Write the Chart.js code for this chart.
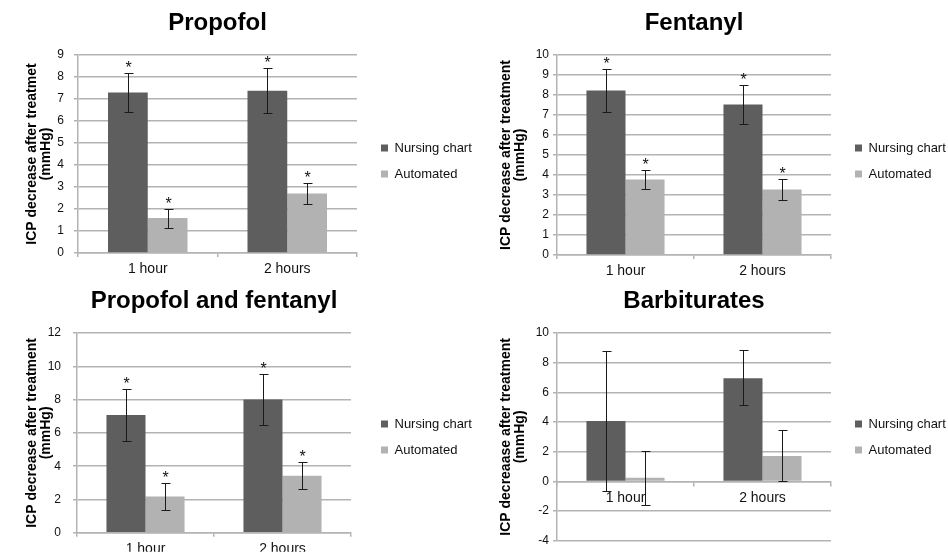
<!DOCTYPE html>
<html lang="en">
<head>
<meta charset="UTF-8" />
<title>ICP decrease after treatment</title>
<script src="https://cdn.jsdelivr.net/npm/chart.js"></script>
<style>
    body { margin: 0; background: #fff; }
    #wrap { position: relative; width: 948px; height: 552px; overflow: hidden; }
    .panel { position: absolute; width: 474px; height: 276px; overflow: hidden; }
</style>
</head>
<body>
<div id="wrap">
    <div class="panel" style="left:0;top:0"><canvas id="c1" width="474" height="276"></canvas></div>
    <div class="panel" style="left:474px;top:0"><canvas id="c2" width="474" height="276"></canvas></div>
    <div class="panel" style="left:0;top:276px"><canvas id="c3" width="474" height="276"></canvas></div>
    <div class="panel" style="left:474px;top:276px"><canvas id="c4" width="474" height="276"></canvas></div>
</div>

<script>
    const hours = ['1 hour', '2 hours'];
    const seriesNames = ['Nursing chart', 'Automated'];

    // Propofol
    const propofolNursing = [7.29, 7.38];
    const propofolNursingLow = [6.43, 6.35];
    const propofolNursingHigh = [8.18, 8.42];
    const propofolAuto = [1.59, 2.71];
    const propofolAutoLow = [1.15, 2.22];
    const propofolAutoHigh = [2.0, 3.16];

    // Fentanyl
    const fentanylNursing = [8.22, 7.53];
    const fentanylNursingLow = [7.15, 6.57];
    const fentanylNursingHigh = [9.28, 8.52];
    const fentanylAuto = [3.78, 3.28];
    const fentanylAutoLow = [3.32, 2.75];
    const fentanylAutoHigh = [4.25, 3.8];

    // Propofol and fentanyl
    const comboNursing = [7.08, 8.0];
    const comboNursingLow = [5.5, 6.46];
    const comboNursingHigh = [8.66, 9.54];
    const comboAuto = [2.18, 3.42];
    const comboAutoLow = [1.36, 2.62];
    const comboAutoHigh = [3.02, 4.28];

    // Barbiturates
    const barbNursing = [4.07, 6.95];
    const barbNursingLow = [-0.64, 5.12];
    const barbNursingHigh = [8.82, 8.84];
    const barbAuto = [0.25, 1.71];
    const barbAutoLow = [-1.57, 0.0];
    const barbAutoHigh = [2.03, 3.46];

    const gridColor = '#b3b3b3';
    const fontFamily = 'Arial, "Liberation Sans", sans-serif';
    const padLeft = 25;

    // error bars + significance stars, drawn from the y scale
    const errorBars = {
        id: 'errorBars',
        afterDatasetsDraw(chart, args, opts) {
            const ctx = chart.ctx;
            const y = chart.scales.y;
            ctx.save();
            ctx.strokeStyle = '#1a1a1a';
            ctx.fillStyle = '#111';
            ctx.lineWidth = 1;
            ctx.font = '16px ' + fontFamily;
            ctx.textAlign = 'center';
            ctx.textBaseline = 'alphabetic';
            chart.data.datasets.forEach((ds, i) => {
                chart.getDatasetMeta(i).data.forEach((bar, j) => {
                    const x = Math.round(bar.x) + 0.5;
                    const top = Math.round(y.getPixelForValue(ds.errHigh[j])) + 0.5;
                    const bottom = Math.round(y.getPixelForValue(ds.errLow[j])) + 0.5;
                    ctx.beginPath();
                    ctx.moveTo(x, top);
                    ctx.lineTo(x, bottom);
                    ctx.moveTo(x - 4, top);
                    ctx.lineTo(x + 5, top);
                    ctx.moveTo(x - 4, bottom);
                    ctx.lineTo(x + 5, bottom);
                    ctx.stroke();
                    if (opts.stars) ctx.fillText('*', x, top - 1);
                });
            });
            ctx.restore();
        }
    };

    function makeChart(id, p) {
        new Chart(document.getElementById(id), {
            type: 'bar',
            data: {
                labels: hours,
                datasets: [{
                    label: seriesNames[0],
                    data: p.nursing,
                    errLow: p.nursingLow,
                    errHigh: p.nursingHigh,
                    backgroundColor: '#5e5e5e'
                }, {
                    label: seriesNames[1],
                    data: p.auto,
                    errLow: p.autoLow,
                    errHigh: p.autoHigh,
                    backgroundColor: '#b2b2b2'
                }]
            },
            options: {
                responsive: false,
                animation: false,
                layout: {
                    padding: { left: padLeft, right: 0, top: 0, bottom: p.padBottom }
                },
                datasets: {
                    bar: { categoryPercentage: 0.57, barPercentage: 1 }
                },
                plugins: {
                    title: {
                        display: true,
                        text: p.title,
                        fullSize: false,
                        color: '#000',
                        font: { family: fontFamily, size: 24, weight: 'bold', lineHeight: 1.2 },
                        padding: { top: p.titleTop, bottom: p.top - p.titleTop - 28.8 }
                    },
                    legend: {
                        position: 'right',
                        align: 'start',
                        fullSize: false,
                        maxWidth: 106,
                        title: {
                            display: true,
                            text: '',
                            font: { size: 1, lineHeight: 1 },
                            padding: { top: 141.5 - 13 - p.top - 1, bottom: 0 }
                        },
                        labels: {
                            boxWidth: 7,
                            boxHeight: 7,
                            padding: 13,
                            color: '#111',
                            font: { family: fontFamily, size: 13 }
                        }
                    },
                    tooltip: { enabled: false },
                    errorBars: { stars: p.stars }
                },
                scales: {
                    x: {
                        position: p.xAtZero ? { y: 0 } : 'bottom',
                        grid: { offset: true, drawOnChartArea: false, tickLength: 4, color: gridColor, lineWidth: 1.5 },
                        border: { color: gridColor, width: 1.5 },
                        ticks: { color: '#111', padding: 4, font: { family: fontFamily, size: 14 } },
                        afterFit(s) { s.height = 276 - p.bottom; }
                    },
                    y: {
                        min: p.min,
                        max: p.max,
                        ticks: { stepSize: p.step, padding: p.tickPad, color: '#111', font: { family: fontFamily, size: 12 } },
                        grid: { color: gridColor, lineWidth: 1.5, tickLength: 4 },
                        border: { color: gridColor, width: 1.5 },
                        title: {
                            display: true,
                            text: [p.yTitle, '(mmHg)'],
                            color: '#000',
                            padding: 0,
                            font: { family: fontFamily, size: 14, weight: 'bold', lineHeight: 1.0 }
                        },
                        afterFit(s) { s.width = p.axisX - padLeft; }
                    },
                    y2: {
                        position: 'right',
                        display: true,
                        grid: { display: false },
                        border: { display: false },
                        ticks: { display: false },
                        afterFit(s) { s.width = 474 - 106 - p.right; }
                    }
                }
            },
            plugins: [errorBars]
        });
    }

    makeChart('c1', {
        title: 'Propofol', yTitle: 'ICP decrease after treatmet',
        nursing: propofolNursing, nursingLow: propofolNursingLow, nursingHigh: propofolNursingHigh,
        auto: propofolAuto, autoLow: propofolAutoLow, autoHigh: propofolAutoHigh,
        min: 0, max: 9, step: 1, stars: true, xAtZero: false,
        axisX: 78, right: 357, top: 55, bottom: 253, titleTop: 9, tickPad: 10, padBottom: 0
    });

    makeChart('c2', {
        title: 'Fentanyl', yTitle: 'ICP decrease after treatment',
        nursing: fentanylNursing, nursingLow: fentanylNursingLow, nursingHigh: fentanylNursingHigh,
        auto: fentanylAuto, autoLow: fentanylAutoLow, autoHigh: fentanylAutoHigh,
        min: 0, max: 10, step: 1, stars: true, xAtZero: false,
        axisX: 83, right: 357, top: 55, bottom: 255, titleTop: 9, tickPad: 4, padBottom: 0
    });

    makeChart('c3', {
        title: 'Propofol and fentanyl', yTitle: 'ICP decrease after treatment',
        nursing: comboNursing, nursingLow: comboNursingLow, nursingHigh: comboNursingHigh,
        auto: comboAuto, autoLow: comboAutoLow, autoHigh: comboAutoHigh,
        min: 0, max: 12, step: 2, stars: true, xAtZero: false,
        axisX: 77, right: 351, top: 57, bottom: 257, titleTop: 10.6, tickPad: 12, padBottom: 0
    });

    makeChart('c4', {
        title: 'Barbiturates', yTitle: 'ICP decreaase after treatment',
        nursing: barbNursing, nursingLow: barbNursingLow, nursingHigh: barbNursingHigh,
        auto: barbAuto, autoLow: barbAutoLow, autoHigh: barbAutoHigh,
        min: -4, max: 10, step: 2, stars: false, xAtZero: true,
        axisX: 83, right: 357, top: 57, bottom: 270, titleTop: 10.6, tickPad: 4, padBottom: 6
    });
</script>
</body>
</html>
